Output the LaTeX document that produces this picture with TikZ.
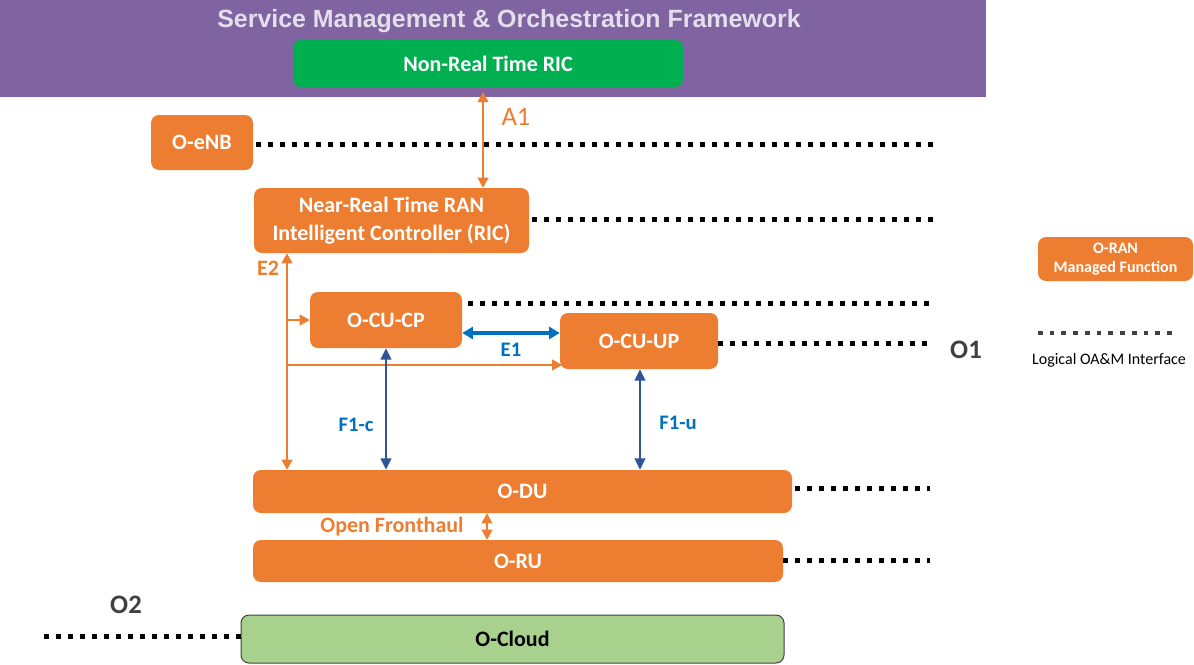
\documentclass[tikz,border=0pt]{standalone}
\usepackage{fontspec}
\setmainfont{Carlito}
\newfontfamily\titlefont{Liberation Sans}
\usetikzlibrary{arrows.meta}
\definecolor{ora}{HTML}{ED7D31}
\definecolor{purp}{HTML}{8064A2}
\definecolor{grn}{HTML}{00B050}
\definecolor{lgrn}{HTML}{A9D18E}
\definecolor{eblue}{HTML}{0070C0}
\definecolor{fblue}{HTML}{2F5597}
\definecolor{ttl}{HTML}{E4DEEC}
\definecolor{dgray}{HTML}{404040}
\tikzset{
  box/.style={rectangle, rounded corners=6pt, fill=ora, text=white, align=center, inner sep=0pt,
    font=\bfseries\fontsize{16.5}{20.5}\selectfont},
  dotline/.style={line width=3.75pt, dash pattern=on 3.75pt off 5.25pt},
  oarr/.style={draw=ora, line width=1.6pt, arrows={Triangle[length=7.5pt,width=8pt]-Triangle[length=7.5pt,width=8pt]}},
  oarrone/.style={draw=ora, line width=1.6pt, arrows={-Triangle[length=7.5pt,width=8pt]}},
  barr/.style={draw=fblue, line width=1.6pt, arrows={Triangle[length=8.5pt,width=8pt]-Triangle[length=8.5pt,width=8pt]}},
  earr/.style={draw=eblue, line width=3pt, arrows={Triangle[length=8pt,width=9pt]-Triangle[length=8pt,width=9pt]}},
  olabel/.style={text=ora, font=\bfseries\fontsize{16.5}{20}\selectfont, inner sep=0pt},
  blabel/.style={text=eblue, font=\bfseries\fontsize{15.5}{18}\selectfont, inner sep=0pt},
  glabel/.style={text=dgray, font=\bfseries\fontsize{20}{24}\selectfont, inner sep=0pt}
}
\begin{document}
\begin{tikzpicture}[x=0.75pt,y=-0.75pt]
\useasboundingbox (0,0) rectangle (1194,664);
% SMO frame
\node[rectangle, fill=purp, inner sep=0pt, minimum width=739.5pt, minimum height=72.75pt] (smo) at (493,48.5) {};
\node[text=ttl, font=\titlefont\bfseries\fontsize{18.7}{22}\selectfont, inner sep=0pt] (smotitle) at (509,21) {Service Management \& Orchestration Framework};
\node[box, fill=grn, minimum width=292.5pt, minimum height=35.25pt] (nrt) at (488,63.5) {Non-Real Time RIC};
% managed functions
\node[box, minimum width=76.5pt, minimum height=41.25pt] (enb) at (202,142.5) {O-eNB};
\node[box, minimum width=206.25pt, minimum height=48.75pt] (ric) at (391.5,220.5) {Near-Real Time RAN\\Intelligent Controller (RIC)};
\node[box, minimum width=114pt, minimum height=42pt] (cucp) at (386,320) {O-CU-CP};
\node[box, minimum width=118.5pt, minimum height=42pt] (cuup) at (639,341) {O-CU-UP};
\node[box, minimum width=404.25pt, minimum height=32.25pt] (du) at (522.5,491.5) {O-DU};
\node[box, minimum width=397.5pt, minimum height=31.5pt] (ru) at (518,561) {O-RU};
\node[box, fill=lgrn, draw=dgray, line width=0.75pt, text=black, minimum width=407.25pt, minimum height=36pt] (cloud) at (512.5,639) {O-Cloud};
% legend
\node[box, minimum width=116.25pt, minimum height=33pt, font=\bfseries\fontsize{12}{14.5}\selectfont] (leg) at (1115.5,259) {O-RAN\\Managed Function};
\node[font=\fontsize{12}{14}\selectfont, inner sep=0pt] (legtxt) at (1109,360) {Logical OA\&M Interface};
% coordinates
\coordinate (a1x) at (483,92);
\coordinate (e2x) at (287,0);
\coordinate (e2a) at (287,320);
\coordinate (e2b) at (287,365);
\coordinate (cuupin) at (562,365);
\coordinate (e1y) at (0,333);
\coordinate (f1c) at (386,0);
\coordinate (f1u) at (640,0);
\coordinate (ofh) at (487,0);
\coordinate (d1) at (933,144);
\coordinate (d2) at (933,219);
\coordinate (d3s) at (468,303);
\coordinate (d3) at (933,303);
\coordinate (d4) at (933,343);
\coordinate (d5s) at (795,488);
\coordinate (d5) at (930,488);
\coordinate (d6) at (930,560);
\coordinate (d7) at (44,636);
\coordinate (l1) at (1038,333);
\coordinate (l2) at (1177,333);
% dotted O1/O2 lines
\draw[dotline] ([xshift=2pt]enb.east |- d1) -- (d1);
\draw[dotline] ([xshift=2pt]ric.east |- d2) -- (d2);
\draw[dotline] (d3s) -- (d3);
\draw[dotline] (cuup.east |- d4) -- (d4);
\draw[dotline] (d5s) -- (d5);
\draw[dotline] (ru.east |- d6) -- (d6);
\draw[dotline] (d7) -- (cloud.west |- d7);
\draw[dotline, draw=dgray, line width=3pt, dash pattern=on 3.5pt off 5.3pt] (l1) -- (l2);
% A1
\draw[oarr, line width=1.4pt] (a1x) -- (ric.north -| a1x);
\node[text=ora, font=\fontsize{20}{24}\selectfont, inner sep=0pt] (a1lab) at (516,117) {A1};
% E2
\draw[oarr] (ric.south -| e2x) -- (du.north -| e2x);
\draw[oarrone] ([xshift=1pt]e2a) -- (cucp.west |- e2a);
\draw[oarrone] ([xshift=1pt]e2b) -- (cuupin);
\node[olabel] (e2lab) at (268,268) {E2};
% E1
\draw[earr] (cucp.east |- e1y) -- (cuup.west |- e1y);
\node[blabel] (e1lab) at (511,350) {E1};
% F1
\draw[barr] (cucp.south -| f1c) -- (du.north -| f1c);
\draw[barr] (cuup.south -| f1u) -- (du.north -| f1u);
\node[blabel] (f1clab) at (356,425) {F1-c};
\node[blabel] (f1ulab) at (678,423) {F1-u};
% Open Fronthaul
\draw[oarr, line width=1.4pt] (du.south -| ofh) -- (ru.north -| ofh);
\node[olabel] (ofhlab) at (392,527) {Open Fronthaul};
% O1 / O2
\node[glabel] (o1) at (966,350) {O1};
\node[glabel] (o2) at (126,605) {O2};
\end{tikzpicture}
\end{document}
